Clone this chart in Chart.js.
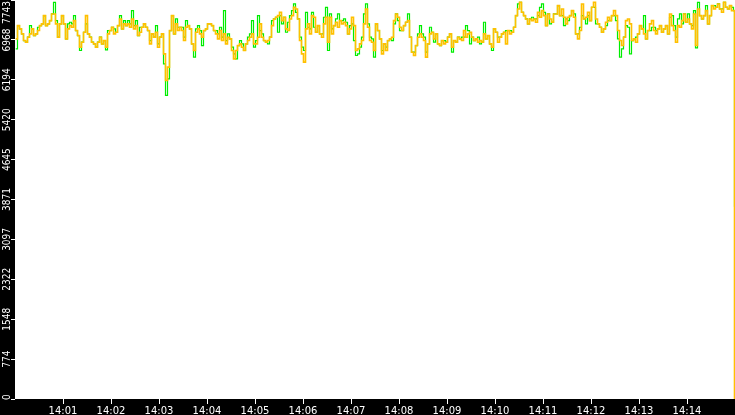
<!DOCTYPE html>
<html>
<head>
<meta charset="utf-8">
<script src="https://cdn.jsdelivr.net/npm/chart.js@4"></script>
<style>
html,body{margin:0;padding:0;background:#000;overflow:hidden;}
canvas{display:block;}
</style>
</head>
<body>
<canvas id="c" width="735" height="415"></canvas>
<script>
// ---- data ----
const startLabel = '14:00';
const sampleStepSeconds = 2.5;
const finalSecond = 898.75;
const xTickLabels = ['14:01','14:02','14:03','14:04','14:05','14:06','14:07','14:08','14:09','14:10','14:11','14:12','14:13','14:14'];
const yTickLabels = ['0','774','1548','2322','3097','3871','4645','5420','6194','6968','7743'];

const orangeValues = [
6988,7246,7182,7085,6956,6924,7021,7085,7182,7053,7085,7150,7246,7279,7440,7246,7279,7343,7472,7472,
7279,7021,7279,7440,7279,6988,7182,7246,7214,7343,7150,7053,6827,6924,7117,7440,7085,7021,6924,6892,
6827,6924,7021,6892,6956,6827,7085,7150,7214,7085,7117,7246,7375,7182,7279,7246,7279,7214,7375,7182,
7246,7053,7117,7214,7279,7214,7150,6892,7085,7021,7117,6827,7021,7085,6698,6182,6440,7150,7440,7085,
7279,7150,7214,7150,6956,7214,7246,7182,6892,6763,7117,7182,7085,7021,7150,7182,7279,7279,7246,7150,
7085,6988,7150,6956,7085,6892,7021,6988,6763,6601,6763,6859,6892,6827,6763,6892,6956,7021,7085,6892,
6892,7021,7279,7021,6956,6924,6956,7021,7246,7375,7408,7440,7504,7343,7408,7182,7150,7375,7440,7601,
7569,7375,6956,6698,6537,7182,7279,7085,7440,7408,7117,7246,7085,7021,7279,7408,6924,7408,7085,7246,
7311,7214,7343,7279,7311,7246,7085,7182,7408,7246,6763,6795,6892,6956,7279,7569,7214,6956,6924,6763,
7279,7150,6988,6698,6892,6763,6956,6988,7021,7343,7472,7408,7214,7150,7246,7311,7343,7021,6730,6666,
6859,7021,7085,7021,6956,6634,6892,7085,7117,6988,7085,6892,6859,6956,6892,6924,7021,7085,6827,6956,
6924,7021,6988,6956,7150,7021,7085,7117,7021,6956,6988,6924,6956,6924,7085,6988,7053,6892,6827,7182,
7117,6924,7021,7085,7117,6892,7150,7085,7117,7214,7440,7569,7698,7504,7440,7375,7279,7375,7343,7375,
7311,7504,7408,7537,7440,7246,7472,7375,7311,7472,7472,7633,7440,7569,7408,7279,7408,7440,7537,7408,
7085,6988,7150,7666,7375,7408,7504,7343,7601,7698,7375,7279,7214,7117,7182,7311,7408,7343,7440,7537,
7440,7150,6956,6859,7021,7343,7375,7279,6956,6988,6924,7085,7246,7182,7085,6988,7150,7279,7343,7150,
7085,7182,7246,7117,7182,7246,7085,7472,7246,7150,6924,7246,7214,7343,7472,7311,7375,7279,7182,7472,
6859,7569,7440,7375,7440,7537,7279,7440,7633,7569,7601,7666,7569,7504,7698,7601,7569,7633,7537,7537,
0
];

const greenValues = [
6795,7246,7182,7085,6956,6924,7021,7246,7182,7053,7085,7214,7246,7279,7440,7246,7279,7343,7472,7698,
7343,7021,7279,7440,7279,6988,7279,7311,7279,7440,7150,7053,6763,6924,7117,7279,7085,7021,6924,6892,
6827,6924,7021,6892,6956,6775,7150,7150,7214,7182,7117,7246,7440,7182,7343,7246,7343,7279,7537,7246,
7343,7053,7214,7214,7279,7214,7150,6956,7085,7021,7246,6892,7021,7085,6505,5892,6214,7150,7440,7085,
7375,7214,7214,7214,7021,7343,7246,7182,6892,6634,7182,7246,7150,6859,7150,7182,7279,7279,7246,7150,
7150,7085,7214,7021,7537,6956,7085,6988,6827,6698,6601,6859,6956,6892,6763,6892,7021,7085,7343,6827,
6956,7440,7150,7085,6956,6924,6892,7021,7343,7375,7408,7117,7440,7279,7408,7117,7311,7440,7537,7666,
7504,7375,7021,6827,6763,7504,7214,7182,7504,7214,7117,7246,7085,7085,7408,7601,6763,7472,7182,7246,
7375,7472,7343,7343,7375,7311,7085,7246,7279,6956,6666,6698,6827,7021,7472,7666,7279,7021,6988,6634,
7279,7150,6988,6763,6892,6827,6956,6988,6956,7279,7472,7343,7150,7150,7246,7311,7472,7021,6730,6730,
6859,7085,7246,7085,7021,6730,6892,7214,7117,6924,7085,6892,6859,6956,6956,6924,7021,7085,6730,6956,
6924,7021,6988,7021,7021,7246,7150,6892,7021,6956,6988,7021,6892,6924,7311,6988,7053,6892,6763,7182,
7117,7021,7021,7085,7117,7150,7150,7150,7117,7214,7440,7666,7698,7504,7440,7375,7279,7375,7408,7375,
7375,7440,7601,7666,7504,7246,7472,7279,7311,7472,7472,7633,7440,7440,7246,7375,7343,7440,7537,7472,
7085,7085,7214,7440,7375,7279,7440,7343,7601,7601,7279,7279,7214,7117,7182,7246,7343,7343,7440,7440,
7343,6988,6634,6795,7021,7246,7214,6698,6956,6988,7021,7085,7246,7182,7440,6988,7150,7150,7214,7214,
7150,7182,7246,7117,7182,7246,7085,7408,7440,7246,7021,7375,7472,7279,7472,7311,7472,7279,7246,7537,
6814,7698,7440,7375,7440,7633,7279,7440,7633,7633,7601,7666,7569,7569,7698,7601,7569,7633,7601,7537,
3731
];

// ---- build ----
function secondsOf(i, n){ return i === n - 1 ? finalSecond : i * sampleStepSeconds; }
function toPoints(vals){ return vals.map((v,i)=>({x: secondsOf(i, vals.length), y: v})); }
function minutesOf(lbl){ const p = lbl.split(':'); return (+p[0])*60 + (+p[1]); }
const startMin = minutesOf(startLabel);
const xTickValues = xTickLabels.map(l => (minutesOf(l) - startMin) * 60);

const bgPlugin = {
  id: 'bg',
  beforeDraw(chart){
    const {ctx, chartArea:a} = chart;
    ctx.save();
    ctx.fillStyle = '#000';
    ctx.fillRect(0,0,chart.width,chart.height);
    ctx.fillStyle = '#fff';
    ctx.fillRect(a.left, a.top, a.right-a.left, a.bottom-a.top);
    ctx.restore();
  }
};

// shift line drawing half a pixel so vertical steps are crisp
const crispPlugin = {
  id: 'crisp',
  beforeDatasetsDraw(chart){ chart.ctx.save(); chart.ctx.translate(0.5, 0); },
  afterDatasetsDraw(chart){ chart.ctx.restore(); }
};

const yLabelPlugin = {
  id: 'ylabels',
  afterDraw(chart){
    const ctx = chart.ctx, s = chart.scales.y;
    ctx.save();
    ctx.fillStyle = '#fff';
    ctx.font = '10px "Liberation Sans Narrow", "DejaVu Sans Condensed", sans-serif';
    ctx.textAlign = 'center';
    ctx.textBaseline = 'alphabetic';
    s.ticks.forEach((t, i) => {
      const lbl = yTickLabels[i];
      const w = ctx.measureText(lbl).width;
      let c = s.getPixelForValue(t.value);
      if (c - w/2 < 1) c = 1 + w/2;
      if (c + w/2 > s.bottom + 1) c = s.bottom + 1 - w/2;
      ctx.save();
      ctx.translate(9.5, c);
      ctx.rotate(-Math.PI/2);
      ctx.fillText(lbl, 0, 0);
      ctx.restore();
    });
    ctx.restore();
  }
};

new Chart(document.getElementById('c'), {
  type: 'line',
  data: {
    datasets: [
      { label: 'orange', data: toPoints(orangeValues), borderColor: '#ffc000', borderWidth: 1.6, stepped: true, pointRadius: 0, fill: false, order: 0 },
      { label: 'green', data: toPoints(greenValues), borderColor: '#00ee00', borderWidth: 1.2, stepped: true, pointRadius: 0, fill: false, order: 1 }
    ]
  },
  options: {
    responsive: false,
    animation: false,
    devicePixelRatio: 1,
    layout: { padding: 0 },
    plugins: { legend: { display: false }, tooltip: { enabled: false }, title: { display: false } },
    scales: {
      x: {
        type: 'linear', min: 0, max: 900,
        afterBuildTicks: s => { s.ticks = xTickValues.map(v => ({ value: v })); },
        afterFit: s => { s.height = 16; },
        grid: { drawOnChartArea: false, color: '#fff', tickLength: 5, tickWidth: 1 },
        border: { display: false },
        ticks: {
          color: '#fff', font: { family: 'DejaVu Sans', size: 10 }, padding: 1,
          maxRotation: 0, minRotation: 0, autoSkip: false,
          callback: (v, i) => xTickLabels[i]
        }
      },
      y: {
        min: 0, max: 7743,
        afterBuildTicks: s => { s.ticks = yTickLabels.map(l => ({ value: +l })); },
        afterFit: s => { s.width = 15; },
        grid: { drawOnChartArea: false, color: '#fff', tickLength: 4, tickWidth: 1 },
        border: { display: false },
        ticks: { display: false }
      }
    }
  },
  plugins: [bgPlugin, crispPlugin, yLabelPlugin]
});
</script>
</body>
</html>
